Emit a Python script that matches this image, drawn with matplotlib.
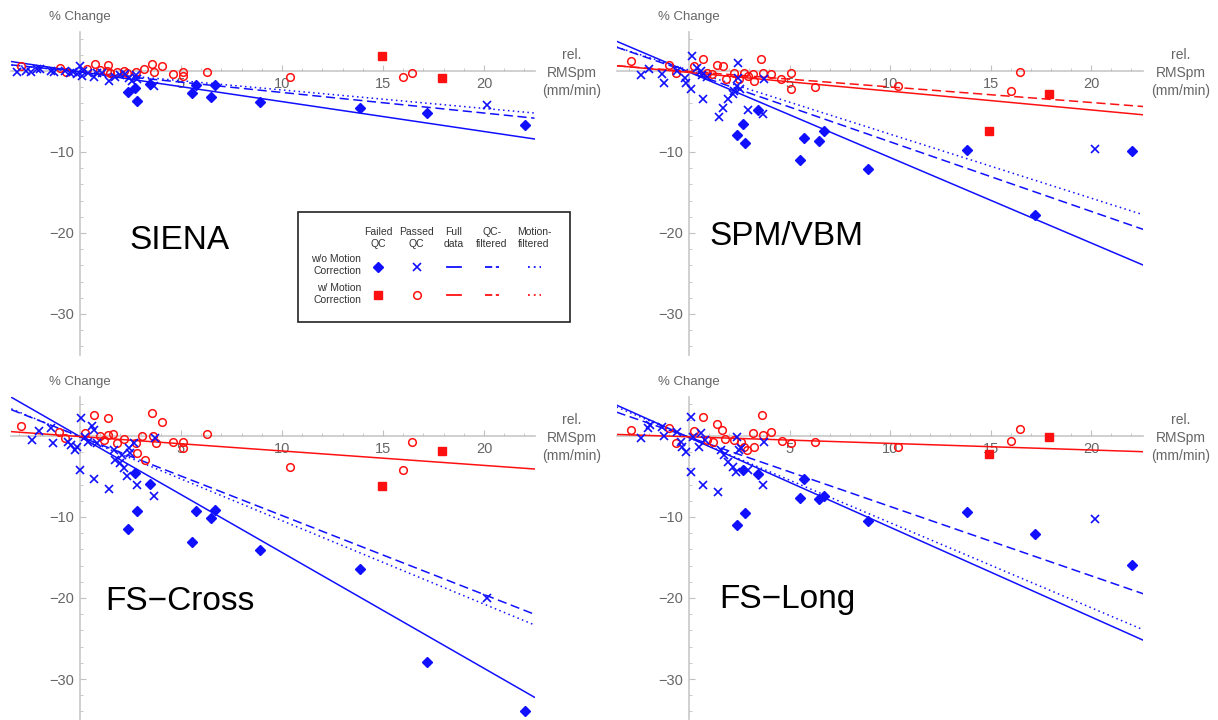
import numpy as np
import matplotlib.pyplot as plt
from matplotlib.patches import Rectangle

plt.rcParams['font.family'] = ['Liberation Sans', 'DejaVu Sans']

BLUE = '#1010ff'
RED = '#ff1010'

# failed QC scans, without motion correction (same RMSpm in every method)
fail_x = [2.39, 2.70, 2.80, 3.45, 5.54, 5.72, 6.48, 6.70, 8.90, 13.84, 17.20, 22.03]
siena_fail_y = [-2.6, -2.15, -3.75, -1.6, -2.7, -1.75, -3.2, -1.7, -3.77, -4.59, -5.2, -6.72]
spm_fail_y = [-7.87, -6.52, -8.89, -4.8, -11.0, -8.28, -8.65, -7.46, -12.1, -9.75, -17.83, -9.92]
fscross_fail_y = [-11.48, -4.59, -9.22, -5.94, -13.07, -9.22, -10.12, -9.18, -14.1, -16.39, -27.95, -33.98]
fslong_fail_y = [-10.94, -4.22, -9.55, -4.71, -7.66, -5.33, -7.79, -7.46, -10.53, -9.34, -12.09, -15.94]

# failed QC scans, with motion correction
moco_fail_x = [14.94, 17.9]
siena_moco_fail_y = [1.89, -0.9]
spm_moco_fail_y = [-7.46, -2.87]
fscross_moco_fail_y = [-6.23, -1.8]
fslong_moco_fail_y = [-2.25, -0.12]

# passed QC, without motion correction
siena_pass_x = [-3.1, -2.69, -2.42, -2.13, -2.0, -1.42, -1.3, -0.75, -0.5, -0.33, -0.17, 0.0, 0.08,
                0.17, 0.42, 0.67, 0.83, 1.08, 1.42, 1.75, 2.0, 2.25, 2.42, 2.58, 2.75, 2.83, 3.67, 20.13]
siena_pass_y = [-0.1, 0.05, -0.08, 0.29, 0.2, 0.0, -0.12, 0.0, -0.2, -0.08, -0.37, 0.62, -0.62,
                0.0, -0.2, -0.74, -0.2, -0.29, -1.23, -0.7, -0.53, -0.41, -0.82, -1.23, -0.53, -0.95, -1.85, -4.18]

spm_pass_x = [-2.37, -2.0, -1.33, -1.25, -0.58, -0.22, -0.13, 0.08, 0.13, 0.42, 0.58, 0.67, 0.72,
              0.92, 1.5, 1.67, 1.95, 2.17, 2.25, 2.38, 2.42, 2.45, 2.55, 2.92, 3.67, 3.75, 20.18]
spm_pass_y = [-0.53, 0.29, -0.33, -1.44, 0.0, -0.82, -1.44, -2.18, 1.85, 0.41, 0.0, -0.53, -3.42,
              -0.7, -5.68, -4.6, -3.5, -2.88, -2.47, -1.85, 1.03, -0.82, -2.26, -4.81, -5.35, -0.95, -9.59]

fscross_pass_x = [-2.38, -2.03, -1.42, -1.33, -0.58, -0.42, -0.25, -0.17, 0.0, 0.05, 0.25, 0.42, 0.58,
                  0.67, 0.7, 0.83, 1.42, 1.67, 1.75, 1.97, 2.08, 2.17, 2.33, 2.42, 2.5, 2.67, 2.83,
                  3.67, 3.7, 20.13]
fscross_pass_y = [-0.49, 0.66, 0.94, -0.82, -0.7, -1.11, -1.72, -1.31, -4.26, 2.17, -0.08, -0.7, 1.23,
                  0.74, -5.33, -0.9, -6.56, -1.72, -2.95, -3.36, -2.34, -3.98, -5.0, -1.52, -2.13, -0.9, -6.02,
                  -7.46, -0.29, -19.96]

fslong_pass_x = [-2.38, -2.05, -1.92, -1.33, -1.25, -0.58, -0.42, -0.33, -0.17, 0.08, 0.08, 0.22, 0.5,
                 0.62, 0.72, 0.78, 1.45, 1.58, 1.75, 1.92, 2.17, 2.33, 2.38, 2.5, 2.58, 2.92, 3.67,
                 3.75, 20.18]
fslong_pass_y = [-0.29, 0.94, 1.35, 1.15, 0.0, 0.53, -0.7, -1.31, -1.93, 2.38, -4.39, -0.08, -1.31,
                 0.33, -6.02, -0.49, -6.97, -1.72, -2.34, -3.16, -3.77, -4.39, -0.16, -1.72, -1.52, -4.26, -6.02,
                 -0.7, -10.2]

# passed QC, with motion correction
siena_circ_x = [-2.92, -1.0, -0.67, 0.33, 0.72, 1.0, 1.37, 1.33, 1.5, 1.83, 2.2, 2.35, 2.75, 3.17,
                3.58, 3.67, 4.08, 4.58, 5.08, 5.08, 6.3, 10.38, 15.97, 16.44]
siena_circ_y = [0.62, 0.41, -0.12, 0.2, 0.82, 0.08, 0.7, 0.0, -0.2, -0.12, 0.0, -0.3, -0.12, 0.29,
                0.82, -0.12, 0.62, -0.41, -0.12, -0.62, -0.08, -0.78, -0.7, -0.2]

spm_circ_x = [-2.88, -1.0, -0.67, 0.25, 0.7, 0.92, 1.12, 1.38, 1.67, 1.83, 2.22, 2.5, 2.75, 2.92,
              3.17, 3.25, 3.58, 3.67, 4.08, 4.58, 5.05, 5.05, 6.28, 10.4, 16.03, 16.46]
spm_circ_y = [1.23, 0.7, -0.21, 0.62, 1.44, -0.21, -0.41, 0.7, 0.62, -0.95, -0.21, -1.03, -0.21, -0.62,
              -0.41, -1.23, 1.52, -0.21, -0.41, -0.95, -0.21, -2.26, -1.98, -1.84, -2.46, -0.12]

fscross_circ_x = [-2.92, -1.03, -0.75, 0.25, 0.7, 1.0, 1.17, 1.37, 1.37, 1.63, 1.83, 2.2, 2.75, 2.83,
                  3.08, 3.2, 3.58, 3.63, 3.75, 4.08, 4.58, 5.08, 5.08, 6.28, 10.38, 15.97, 16.44]
fscross_circ_y = [1.23, 0.53, -0.29, 0.33, 2.58, 0.0, -0.49, 2.17, 0.12, 0.25, -0.82, -0.41, -0.82, -2.13,
                  0.0, -2.95, 2.79, 0.0, -0.82, 1.76, -0.7, -0.7, -1.52, 0.25, -3.89, -4.22, -0.7]

fslong_circ_x = [-2.88, -1.0, -0.67, 0.25, 0.72, 0.92, 1.17, 1.38, 1.63, 1.8, 2.22, 2.58, 2.75, 2.88,
                 3.17, 3.22, 3.62, 3.67, 4.08, 4.62, 5.08, 6.28, 10.4, 16.03, 16.46]
fslong_circ_y = [0.74, 0.94, -0.82, 0.66, 2.38, -0.49, -0.7, 1.48, 0.74, -0.41, -0.49, -0.7, -1.31, -1.72,
                 0.33, -1.31, 2.58, 0.12, 0.45, -0.57, -0.9, -0.7, -1.39, -0.61, 0.86]

# regression lines: full data, QC-filtered, motion-filtered
siena_blue_slope = [-0.369, -0.254, -0.228]
siena_blue_icpt = [-0.09, -0.11, -0.06]
siena_red_slope = []
siena_red_icpt = []
spm_blue_slope = [-1.055, -0.859, -0.79]
spm_blue_icpt = [-0.13, -0.15, 0.1]
spm_red_slope = [-0.2315, -0.192]
spm_red_icpt = [-0.18, -0.05]
fscross_blue_slope = [-1.43, -0.975, -1.03]
fscross_blue_icpt = [-0.08, -0.07, -0.15]
fscross_red_slope = [-0.178]
fscross_red_icpt = [-0.07]
fslong_blue_slope = [-1.108, -0.856, -1.05]
fslong_blue_icpt = [-0.18, -0.14, -0.2]
fslong_red_slope = [-0.0815]
fslong_red_icpt = [-0.1]

W, H = 1218, 720
STYLES = ['-', (0, (6, 3)), (0, (1, 2.2))]
LEGEND_STYLES = ['-', (0, (4, 2)), (0, (1, 2.2))]


def rect(left, right, top, bottom):
    return [left / W, 1 - bottom / H, (right - left) / W, (bottom - top) / H]


def draw_panel(ax, xlim, ylim, fail_y, pass_x, pass_y, circ_x, circ_y, sq_y,
               bs, bi, rs, ri):
    ax.set_xlim(xlim)
    ax.set_ylim(ylim)
    for s in ['top', 'right']:
        ax.spines[s].set_visible(False)
    for s in ['left', 'bottom']:
        ax.spines[s].set_position(('data', 0))
        ax.spines[s].set_color('#c8c8c8')
        ax.spines[s].set_linewidth(1.2)
        ax.spines[s].set_zorder(1)
    ax.set_xticks([5, 10, 15, 20])
    ax.set_xticks(np.arange(-3, 23), minor=True)
    ax.set_yticks([-30, -20, -10])
    ax.set_yticks(np.arange(-34, 5, 2), minor=True)
    ax.tick_params(which='both', colors='#c0c0c0', labelcolor='#666666',
                   labelsize=10.5, direction='in')
    ax.tick_params(which='major', length=4, pad=4)
    ax.tick_params(which='minor', length=2)
    ax.patch.set_visible(False)

    xs = np.array(xlim)
    for k in range(len(bs)):
        ax.plot(xs, bi[k] + bs[k] * xs, color=BLUE, lw=1.1, ls=STYLES[k], zorder=2)
    for k in range(len(rs)):
        ax.plot(xs, ri[k] + rs[k] * xs, color=RED, lw=1.1, ls=STYLES[k], zorder=2)

    ax.plot(circ_x, circ_y, 'o', ms=5.5, mfc='none', mec=RED, mew=1.1, zorder=3)
    ax.plot(pass_x, pass_y, 'x', ms=6, color=BLUE, mew=1.2, zorder=3)
    ax.plot(fail_x, fail_y, 'D', ms=4.8, color=BLUE, zorder=4, clip_on=False)
    ax.plot(moco_fail_x, sq_y, 's', ms=6.2, color=RED, zorder=4)

    ax.annotate('% Change', xy=(0, 1), xycoords=ax.get_xaxis_transform(),
                xytext=(0, 11), textcoords='offset points', ha='center', va='center',
                fontsize=9.5, color='#666666')
    ax.annotate('rel.\nRMSpm\n(mm/min)', xy=(1, 0), xycoords=ax.get_yaxis_transform(),
                xytext=(27, -1.5), textcoords='offset points', ha='center', va='center',
                multialignment='center', fontsize=10, color='#666666', linespacing=1.35)


fig = plt.figure(figsize=(W / 100, H / 100), dpi=100)

ax1 = fig.add_axes(rect(11.3, 534.5, 32.1, 354.5))
draw_panel(ax1, (-3.4, 22.5), (-35, 4.8), siena_fail_y, siena_pass_x, siena_pass_y,
           siena_circ_x, siena_circ_y, siena_moco_fail_y,
           siena_blue_slope, siena_blue_icpt, siena_red_slope, siena_red_icpt)

ax2 = fig.add_axes(rect(616.6, 1143.4, 32.1, 354.5))
draw_panel(ax2, (-3.6, 22.6), (-35, 4.8), spm_fail_y, spm_pass_x, spm_pass_y,
           spm_circ_x, spm_circ_y, spm_moco_fail_y,
           spm_blue_slope, spm_blue_icpt, spm_red_slope, spm_red_icpt)

ax3 = fig.add_axes(rect(11.3, 534.5, 397.1, 718.7))
draw_panel(ax3, (-3.4, 22.5), (-34.9, 4.8), fscross_fail_y, fscross_pass_x, fscross_pass_y,
           fscross_circ_x, fscross_circ_y, fscross_moco_fail_y,
           fscross_blue_slope, fscross_blue_icpt, fscross_red_slope, fscross_red_icpt)

ax4 = fig.add_axes(rect(616.6, 1143.4, 397.1, 718.7))
draw_panel(ax4, (-3.6, 22.6), (-34.9, 4.8), fslong_fail_y, fslong_pass_x, fslong_pass_y,
           fslong_circ_x, fslong_circ_y, fslong_moco_fail_y,
           fslong_blue_slope, fslong_blue_icpt, fslong_red_slope, fslong_red_icpt)

# method names
for name, px, py in [('SIENA', 180, 249), ('SPM/VBM', 786, 245),
                     ('FS\u2212Cross', 180, 610), ('FS\u2212Long', 787, 608)]:
    fig.text(px / W, 1 - py / H, name, ha='center', va='baseline', fontsize=24, color='black')

# legend box drawn in pixel space
lg = fig.add_axes([0, 0, 1, 1], zorder=10)
lg.set_xlim(0, W)
lg.set_ylim(H, 0)
lg.axis('off')
lg.add_patch(Rectangle((298, 212), 272, 110, facecolor='white', edgecolor='#222222', lw=1.2))
for txt, cx in [('Failed\nQC', 378), ('Passed\nQC', 416), ('Full\ndata', 454),
                ('QC-\nfiltered', 492), ('Motion-\nfiltered', 534)]:
    lg.text(cx, 238, txt, ha='center', va='center', fontsize=7.5, color='#333333', linespacing=1.2)
for txt, cy in [('w/o Motion\nCorrection', 265), ('w/ Motion\nCorrection', 294)]:
    lg.text(361, cy, txt, ha='right', va='center', fontsize=7.5, color='#333333', linespacing=1.2)
lg.plot([378], [267], 'D', ms=4.8, color=BLUE)
lg.plot([417], [267], 'x', ms=6, color=BLUE, mew=1.2)
lg.plot([378], [295], 's', ms=6.2, color=RED)
lg.plot([417], [295], 'o', ms=5.5, mfc='none', mec=RED, mew=1.1)
for k, (x0, x1) in enumerate([(447, 461), (485, 499), (528, 541)]):
    lg.plot([x0, x1], [267, 267], color=BLUE, lw=1.3, ls=LEGEND_STYLES[k])
    lg.plot([x0, x1], [295, 295], color=RED, lw=1.3, ls=LEGEND_STYLES[k])

fig.savefig('out.png', dpi=100)
